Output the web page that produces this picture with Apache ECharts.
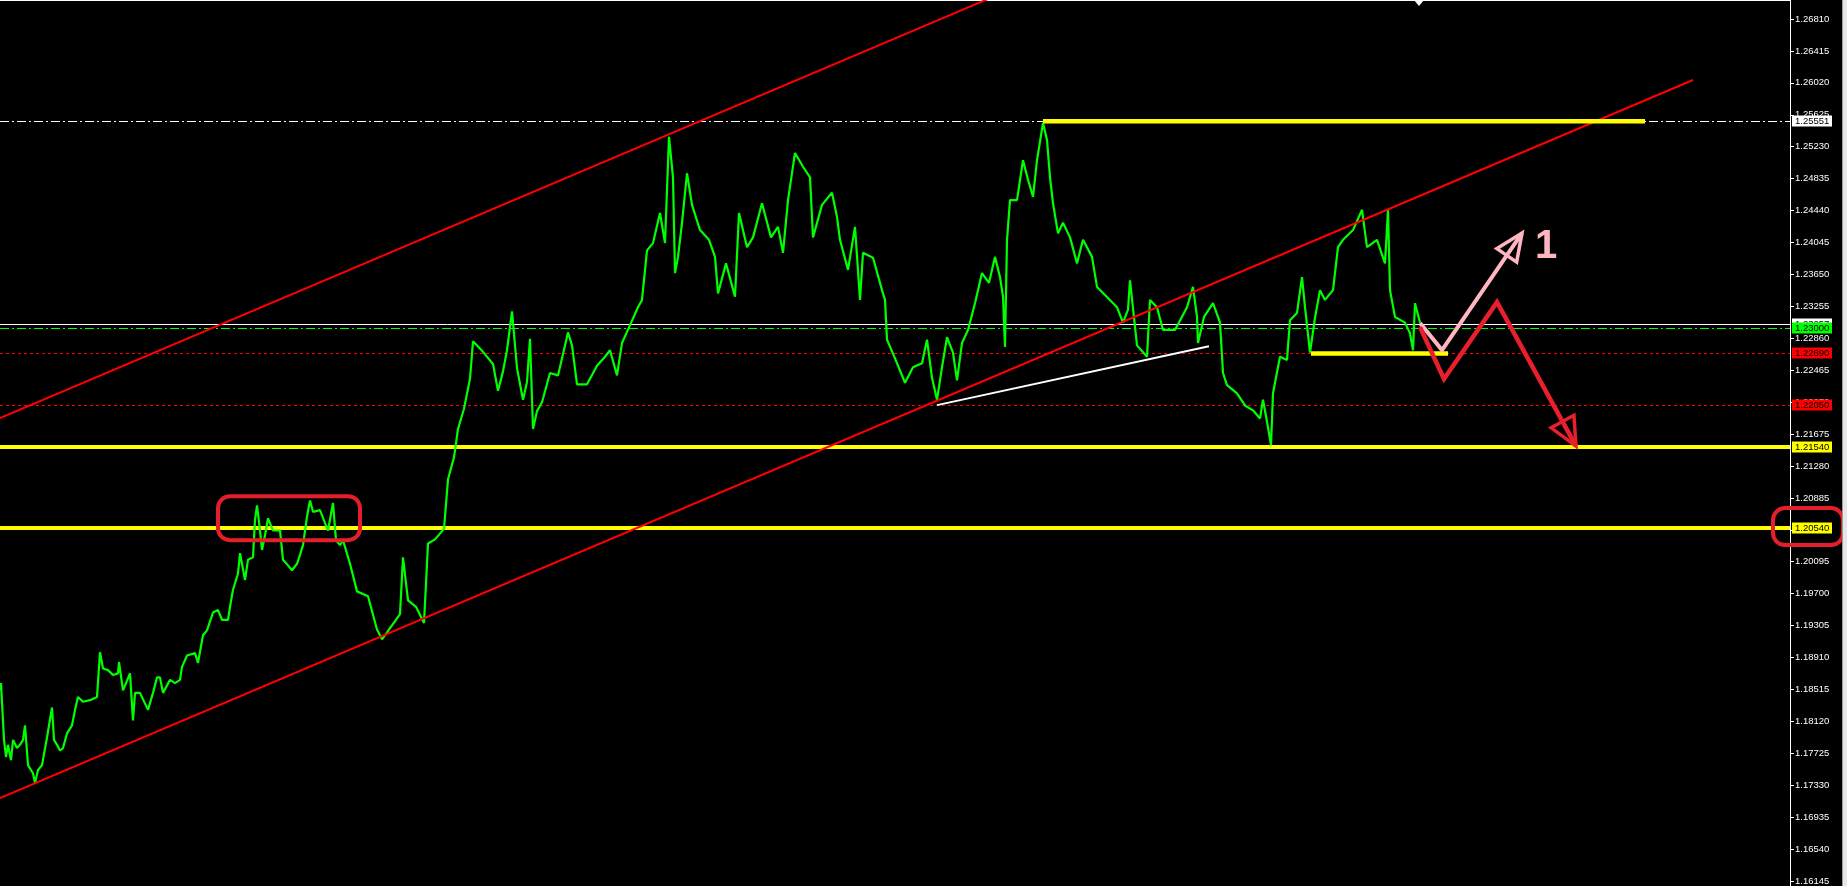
<!DOCTYPE html>
<html><head><meta charset="utf-8">
<script src="https://cdn.jsdelivr.net/npm/echarts@6/dist/echarts.min.js"></script>
<style>html,body{margin:0;padding:0;background:#000;overflow:hidden}#c{width:1847px;height:886px}</style>
</head><body><div id="c"></div>
<script>
// ---------- data ----------
const priceTime = [0,1,4,6,8,11,13,17,20,23,25,28,33,35,38,42,47,52,54,57,60,63,67,72,75,78,83,90,97,100,103,108,113,118,119,123,130,133,135,140,148,153,157,160,163,170,175,180,182,187,195,198,203,207,213,218,222,228,230,233,238,240,245,248,253,255,257,260,262,265,268,273,280,283,288,292,297,300,303,307,310,313,320,325,328,333,336,
340,343,350,357,368,377,382,392,400,403,408,416,424,428,435,444,448,454,458,464,470,473,483,493,498,503,507,512,517,523,527,530,533,537,542,550,558,568,572,577,587,597,605,610,617,622,630,638,
642,647,653,660,665,669,673,675,678,682,687,692,700,709,715,718,726,735,739,747,753,762,771,778,783,788,795,803,810,813,822,832,837,840,848,855,860,863,873,882,885,887,895,905,913,922,927,932,
937,942,947,953,957,962,968,975,982,989,995,1000,1003,1005,1007,1010,1017,1023,1028,1033,1037,1043,1047,1050,1053,1058,1063,1070,1077,1083,1092,1097,1105,1117,1123,1128,1130,1137,1147,1150,1157,1163,1175,1187,1193,1197,1198,1204,1213,1220,1223,1227,1237,1245,
1253,1260,1263,1268,1271,1273,1280,1287,1290,1297,1302,1305,1310,1315,1320,1325,1333,1338,1343,1353,1362,1367,1377,1385,1388,1390,1395,1405,1410,1413,1415,1420];
const priceValue = [1.1854,1.1863,1.1793,1.1772,1.1787,1.1768,1.1793,1.1783,1.1787,1.1793,1.1811,1.1762,1.1752,1.1740,1.1756,1.1762,1.1796,1.1833,1.1793,1.1787,1.1780,1.1783,1.1801,1.1811,1.1830,1.1846,1.1840,1.1842,1.1846,1.1901,1.1881,1.1879,1.1873,1.1875,1.1889,1.1854,1.1875,1.1817,1.1851,1.1851,1.1830,1.1851,1.1870,1.1870,1.1851,1.1867,1.1863,1.1867,1.1883,1.1897,1.1900,1.1888,1.1922,1.1928,1.1950,1.1953,1.1941,1.1941,1.1957,1.1978,1.1998,1.2023,1.1990,1.2015,1.2018,1.2064,1.2082,1.2051,1.2027,1.2045,1.2066,1.2051,1.2051,1.2015,1.2008,1.2002,1.2010,1.2021,1.2033,1.2068,1.2088,1.2074,1.2076,1.2060,1.2051,1.2085,1.2039,
1.2033,1.2039,1.2010,1.1976,1.1970,1.1929,1.1917,1.1934,1.1948,1.2018,1.1965,1.1957,1.1937,1.2035,1.2040,1.2053,1.2114,1.2141,1.2176,1.2201,1.2238,1.2284,1.2271,1.2256,1.2223,1.2247,1.2273,1.2321,1.2251,1.2212,1.2234,1.2287,1.2176,1.2198,1.2209,1.2245,1.2242,1.2295,1.2279,1.2231,1.2231,1.2254,1.2265,1.2273,1.2242,1.2282,1.2304,1.2326,
1.2335,1.2396,1.2405,1.2442,1.2405,1.2536,1.2486,1.2368,1.2388,1.2430,1.2491,1.2452,1.2421,1.2409,1.2388,1.2343,1.2380,1.2339,1.2442,1.2400,1.2412,1.2454,1.2412,1.2425,1.2393,1.2458,1.2516,1.2499,1.2486,1.2412,1.2452,1.2467,1.2437,1.2409,1.2372,1.2425,1.2335,1.2393,1.2387,1.2347,1.2335,1.2286,1.2263,1.2233,1.2252,1.2257,1.2286,1.2239,
1.2212,1.2252,1.2289,1.2270,1.2236,1.2282,1.2298,1.2331,1.2368,1.2356,1.2388,1.2363,1.2339,1.2277,1.2409,1.2458,1.2458,1.2507,1.2483,1.2462,1.2507,1.2553,1.2532,1.2486,1.2454,1.2417,1.2430,1.2412,1.2380,1.2409,1.2388,1.2351,1.2341,1.2326,1.2307,1.2323,1.2359,1.2279,1.2265,1.2335,1.2326,1.2298,1.2298,1.2326,1.2351,1.2314,1.2282,1.2314,1.2331,1.2307,1.2245,1.2230,1.2220,1.2205,
1.2199,1.2189,1.2212,1.2178,1.2156,1.2220,1.2265,1.2261,1.2310,1.2319,1.2363,1.2326,1.2270,1.2313,1.2347,1.2335,1.2347,1.2400,1.2409,1.2421,1.2446,1.2400,1.2409,1.2380,1.2446,1.2347,1.2314,1.2307,1.2294,1.2273,1.2331,1.2307];

const tickLabels = ['1.16145','1.16540','1.16935','1.17330','1.17725','1.18120','1.18515','1.18910','1.19305','1.19700','1.20095','1.20490','1.20885','1.21280','1.21675','1.22070','1.22465','1.22860','1.23255','1.23650','1.24045','1.24440','1.24835','1.25230','1.25625','1.26020','1.26415','1.26810'];

const levelPrices = [1.25551, 1.23057, 1.23000, 1.22690, 1.22050, 1.21540, 1.20540];
const levelTexts  = ['1.25551','1.23057','1.23000','1.22690','1.22050','1.21540','1.20540'];

// drawn objects: [time, price] anchors
const channelUpper = [[0, 1.21894], [1100, 1.27642]];
const channelLower = [[0, 1.17213], [1693, 1.26059]];
const whiteTrend   = [[937, 1.22054], [1209, 1.22780]];
const highSegment  = [[1043, 1.25551], [1645, 1.25551]];
const lowSegment   = [[1311, 1.22690], [1448, 1.22690]];
const pinkPath     = [[1420, 1.23065], [1442, 1.22732], [1522, 1.24173]];
const redPath      = [[1420, 1.23015], [1444, 1.22375], [1497, 1.23323], [1576, 1.21549]];
const boxDoubleTop = [[218, 1.20933], [360, 1.20391]];
const boxAxisLabel = [[1773, 1.20786], [1843, 1.20330]];
const scenarioLabel = {time: 1546, price: 1.2400, text: '1'};
const shiftMarkerTime = 1419;

// ---------- chart ----------
const T_MAX = 1790, Y_MIN = 1.16131, Y_MAX = 1.27044;
const chart = echarts.init(document.getElementById('c'), null, {renderer: 'canvas'});

const levelStyle = [
  {color:'#ffffff', width:1, dash:[9,3,2,3], bg:'#ffffff'},
  {color:'#ffffff', width:1, dash:null, bg:'#ffffff'},
  {color:'#00ff00', width:1, dash:[9,3,2,3], bg:'#00ff00'},
  {color:'#ff0000', width:1, dash:[3,3], bg:'#ff0000'},
  {color:'#ff0000', width:1, dash:[3,3], bg:'#ff0000'},
  {color:'#ffff00', width:4, dash:null, bg:'#ffff00'},
  {color:'#ffff00', width:4, dash:null, bg:'#ffff00'}
];

function crisp(v, w){ return w % 2 === 1 ? Math.round(v) + 0.5 : Math.round(v); }

function arrowHead(tip, prev, L, W, color, lw){
  const dx = tip[0]-prev[0], dy = tip[1]-prev[1];
  const d = Math.hypot(dx, dy); const ux = dx/d, uy = dy/d;
  const nx = -uy, ny = ux;
  const bx = tip[0]-ux*L, by = tip[1]-uy*L;
  return {type:'polygon', shape:{points:[tip, [bx+nx*W, by+ny*W], [bx-nx*W, by-ny*W]]},
    style:{fill:'none', stroke:color, lineWidth:lw, lineJoin:'miter'}};
}

chart.setOption({
  animation: false,
  backgroundColor: '#000000',
  grid: [
    {left:0, right:57, top:0, bottom:0, containLabel:false},
    {left:0, right:57, top:19, bottom:1, containLabel:false}
  ],
  xAxis: [
    {gridIndex:0, type:'value', min:0, max:T_MAX, position:'top',
     axisLine:{show:true, onZero:false, lineStyle:{color:'#ffffff', width:2}}, axisTick:{show:false}, axisLabel:{show:false}, splitLine:{show:false}},
    {gridIndex:1, type:'value', min:0, max:T_MAX, show:false}
  ],
  yAxis: [
    {gridIndex:0, type:'value', min:Y_MIN, max:Y_MAX, position:'right',
     axisLine:{show:true, onZero:false, lineStyle:{color:'#ffffff', width:1}}, axisTick:{show:false}, axisLabel:{show:false}, splitLine:{show:false}},
    {gridIndex:1, type:'value', min:0, max:tickLabels.length-1, interval:1, position:'right',
     axisLine:{show:false, onZero:false}, axisTick:{show:true, inside:false, length:4, lineStyle:{color:'#ffffff'}},
     axisLabel:{show:true, color:'#ffffff', fontSize:9.5, fontFamily:'Liberation Sans', margin:5,
       formatter: v => tickLabels[Math.round(v)] || ''},
     splitLine:{show:false}}
  ],
  graphic: [
    {type:'rect', shape:{x:1843, y:0, width:4, height:886}, style:{fill:'#e6e6e6'}, z:100},
    {type:'line', shape:{x1:1842.5, y1:0, x2:1842.5, y2:886}, style:{stroke:'#9a9a9a', lineWidth:1}, z:100}
  ],
  series: [
    { // horizontal levels
      type:'custom', xAxisIndex:0, yAxisIndex:0, clip:false, silent:true, z:1,
      data: levelPrices.map(p => [0, p]),
      renderItem: (params, api) => {
        const i = params.dataIndex, st = levelStyle[i];
        const a = api.coord([0, levelPrices[i]]), b = api.coord([T_MAX, levelPrices[i]]);
        const y = crisp(a[1], st.width);
        return {type:'line', shape:{x1:a[0], y1:y, x2:b[0], y2:y},
          style:{stroke:st.color, lineWidth:st.width, lineDash:st.dash}};
      }
    },
    { // price
      type:'line', xAxisIndex:0, yAxisIndex:0, z:2, silent:true,
      data: priceTime.map((t, i) => [t, priceValue[i]]),
      showSymbol:false, symbol:'none',
      lineStyle:{color:'#00ff00', width:2.2}
    },
    { // drawn objects
      type:'custom', xAxisIndex:0, yAxisIndex:0, clip:false, silent:true, z:3,
      data: [[0, Y_MIN]],
      renderItem: (params, api) => {
        const P = d => api.coord(d);
        const pl = (pts, color, w, cap) => ({type:'polyline', shape:{points:pts.map(P)},
          style:{stroke:color, lineWidth:w, fill:'none', lineCap:cap||'butt', lineJoin:'miter'}});
        const kids = [];
        kids.push(pl(channelUpper, '#ff0000', 2));
        kids.push(pl(channelLower, '#ff0000', 2));
        kids.push(pl(whiteTrend, '#ffffff', 2));
        kids.push(pl(highSegment, '#ffff00', 4.5));
        kids.push(pl(lowSegment, '#ffff00', 4.5));
        kids.push(pl(pinkPath, '#ffb6c1', 4));
        const pp = pinkPath.map(P);
        kids.push(arrowHead(pp[pp.length-1], pp[pp.length-2], 27, 12, '#ffb6c1', 3.5));
        kids.push(pl(redPath, '#e8202c', 4.5));
        const rp = redPath.map(P);
        kids.push(arrowHead(rp[rp.length-1], rp[rp.length-2], 28, 13, '#e8202c', 3.5));
        const lp = P([scenarioLabel.time, scenarioLabel.price]);
        kids.push({type:'text', x:lp[0], y:lp[1], style:{text:scenarioLabel.text, fill:'#ffb6c1',
          fontSize:40, fontWeight:'bold', fontFamily:'Liberation Sans', align:'center', verticalAlign:'middle'}});
        const sm = P([shiftMarkerTime, Y_MAX]);
        kids.push({type:'polygon', shape:{points:[[sm[0]-5, 0], [sm[0]+5, 0], [sm[0], 6]]}, style:{fill:'#ffffff'}});
        return {type:'group', children:kids};
      }
    },
    { // price labels on the axis
      type:'custom', xAxisIndex:0, yAxisIndex:0, clip:false, silent:true, z:10,
      data: levelPrices.map(p => [T_MAX, p]),
      renderItem: (params, api) => {
        const i = params.dataIndex, st = levelStyle[i];
        const b = api.coord([T_MAX, levelPrices[i]]);
        const y = Math.round(b[1]);
        return {type:'group', children:[
          {type:'rect', shape:{x:b[0]+2, y:y-5.5, width:40, height:11}, style:{fill:st.bg}},
          {type:'text', x:b[0]+5, y:y+0.5, style:{text:levelTexts[i], fill:'#000000', fontSize:9.5,
            fontFamily:'Liberation Sans', align:'left', verticalAlign:'middle'}}
        ]};
      }
    },
    { // hand-drawn rounded boxes
      type:'custom', xAxisIndex:0, yAxisIndex:0, clip:false, silent:true, z:20,
      data: [[0, Y_MIN]],
      renderItem: (params, api) => {
        const box = b => {
          const p1 = api.coord(b[0]), p2 = api.coord(b[1]);
          return {type:'rect', shape:{x:p1[0], y:p1[1], width:p2[0]-p1[0], height:p2[1]-p1[1], r:12},
            style:{fill:'none', stroke:'#e41e2b', lineWidth:4}};
        };
        return {type:'group', children:[box(boxDoubleTop), box(boxAxisLabel)]};
      }
    }
  ]
});
</script></body></html>
